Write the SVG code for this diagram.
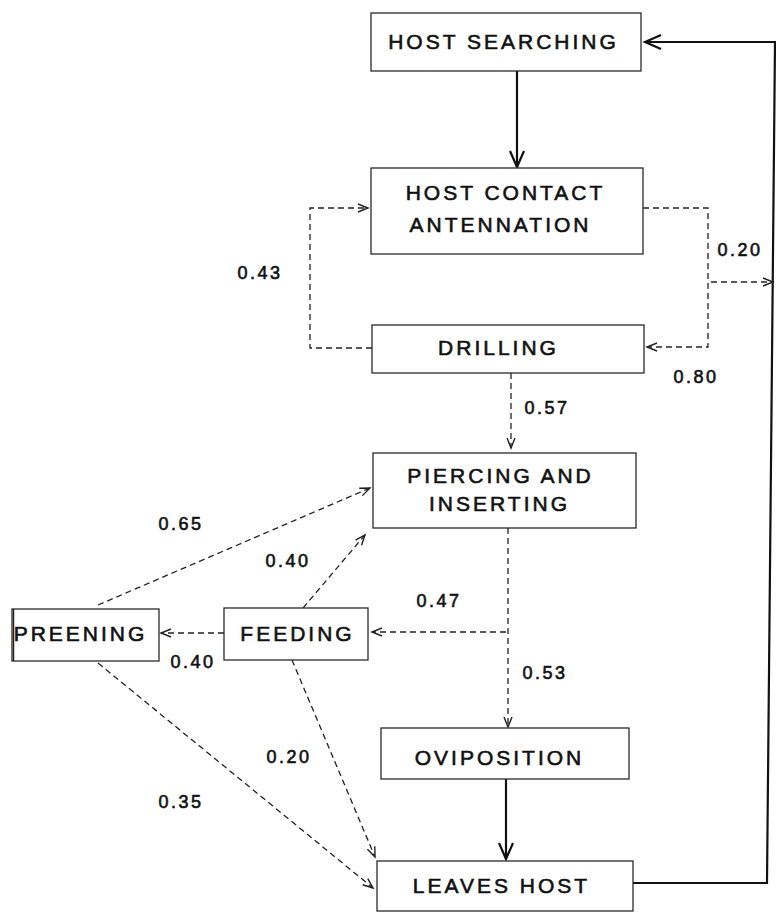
<svg xmlns="http://www.w3.org/2000/svg" width="776" height="913" viewBox="0 0 776 913">
<defs>
<style>
.box{fill:#fff;stroke:#2a2a2a;stroke-width:1.3}
.t{font-family:"Liberation Sans",Arial,sans-serif;font-size:21px;letter-spacing:3px;fill:#111;stroke:#111;stroke-width:0.6;text-anchor:middle}
.n{font-family:"Liberation Sans",Arial,sans-serif;font-size:18px;letter-spacing:2.5px;fill:#111;stroke:#111;stroke-width:0.6;text-anchor:middle}
.s{fill:none;stroke:#111;stroke-width:2.2;marker-end:url(#ah)}
.d{fill:none;stroke:#222;stroke-width:1.3;stroke-dasharray:6 4;marker-end:url(#dh)}
</style>
<marker id="ah" markerUnits="userSpaceOnUse" markerWidth="20" markerHeight="18" refX="17" refY="8" orient="auto" viewBox="0 0 20 18">
<path d="M1,1 L17,8 L1,15" fill="none" stroke="#111" stroke-width="2.2"/>
</marker>
<marker id="dh" markerUnits="userSpaceOnUse" markerWidth="14" markerHeight="12" refX="11" refY="5" orient="auto" viewBox="0 0 14 12">
<path d="M1,1 L11,5 L1,9" fill="none" stroke="#222" stroke-width="1.4"/>
</marker>
</defs>
<rect width="776" height="913" fill="#fff"/>

<g id="connectors">
<line class="s" x1="517" y1="71" x2="517" y2="167"/>
<line class="s" x1="506" y1="779" x2="506" y2="859"/>
<polyline class="s" points="633,883 767,883 775,42 645,42"/>
<polyline class="d" points="643,208 708,208 708,347 647,347"/>
<line class="d" x1="711" y1="282" x2="773" y2="282"/>
<polyline class="d" points="372,348 310,348 310,208 368,208"/>
<line class="d" x1="511" y1="373" x2="511" y2="448"/>
<line class="d" x1="508" y1="528" x2="508" y2="727"/>
<line class="d" x1="506" y1="632" x2="372" y2="632"/>
<line class="d" x1="224" y1="633" x2="161" y2="633"/>
<line class="d" x1="98" y1="605" x2="370" y2="488"/>
<line class="d" x1="303" y1="608" x2="365" y2="535"/>
<line class="d" x1="292" y1="660" x2="375" y2="857"/>
<line class="d" x1="98" y1="663" x2="373" y2="888"/>
</g>

<g id="host-searching">
<rect class="box" x="371" y="13" width="270" height="58"/>
<text class="t" x="503.5" y="49">HOST SEARCHING</text>
</g>
<g id="host-contact">
<rect class="box" x="371" y="168" width="272" height="86"/>
<text class="t" x="505.5" y="200">HOST CONTACT</text>
<text class="t" x="500.5" y="232">ANTENNATION</text>
</g>
<g id="drilling">
<rect class="box" x="372" y="325" width="272" height="48"/>
<text class="t" x="498.5" y="355">DRILLING</text>
</g>
<g id="piercing">
<rect class="box" x="373" y="453" width="263" height="75"/>
<text class="t" x="500.5" y="483">PIERCING AND</text>
<text class="t" x="499.5" y="511">INSERTING</text>
</g>
<g id="preening">
<rect class="box" x="12" y="609" width="147" height="52"/>
<line x1="13.5" y1="609" x2="13.5" y2="661" stroke="#222" stroke-width="1.5"/>
<text class="t" x="80.5" y="641">PREENING</text>
</g>
<g id="feeding">
<rect class="box" x="224" y="608" width="144" height="52"/>
<text class="t" x="297.5" y="641">FEEDING</text>
</g>
<g id="oviposition">
<rect class="box" x="381" y="728" width="248" height="51"/>
<text class="t" x="499.5" y="765" letter-spacing="2">OVIPOSITION</text>
</g>
<g id="leaves-host">
<rect class="box" x="377" y="861" width="256" height="50"/>
<text class="t" x="501.5" y="893">LEAVES HOST</text>
</g>

<g id="labels">
<text class="n" x="740" y="256">0.20</text>
<text class="n" x="260" y="279">0.43</text>
<text class="n" x="696" y="383">0.80</text>
<text class="n" x="547" y="414">0.57</text>
<text class="n" x="181" y="530">0.65</text>
<text class="n" x="288" y="567">0.40</text>
<text class="n" x="439" y="607">0.47</text>
<text class="n" x="193" y="668">0.40</text>
<text class="n" x="545" y="679">0.53</text>
<text class="n" x="289" y="763">0.20</text>
<text class="n" x="181" y="808">0.35</text>
</g>
</svg>
